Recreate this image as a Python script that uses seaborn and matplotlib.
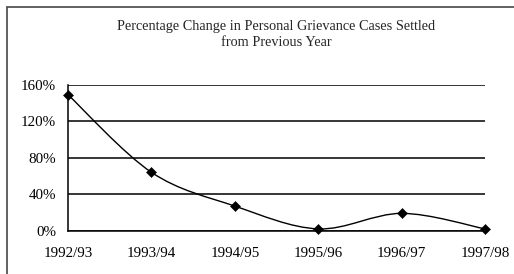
import numpy as np
import pandas as pd
import matplotlib
matplotlib.use("Agg")
import matplotlib.pyplot as plt
from matplotlib.path import Path
from matplotlib.patches import PathPatch
from matplotlib.lines import Line2D
import seaborn as sns

years = ["1992/93", "1993/94", "1994/95", "1995/96", "1996/97", "1997/98"]
pct_change = [149, 64, 27, 2, 19, 2]
y_ticks = [0, 40, 80, 120, 160]
y_labels = ["0%", "40%", "80%", "120%", "160%"]
title = "Percentage Change in Personal Grievance Cases Settled\nfrom Previous Year"


def smooth_path(xs, ys):
    # Excel style smoothed line: cubic bezier with 1/6 tangents
    pts = np.column_stack([xs, ys]).astype(float)
    n = len(pts)
    verts = [pts[0]]
    codes = [Path.MOVETO]
    for i in range(n - 1):
        p0 = pts[max(i - 1, 0)]
        p1 = pts[i]
        p2 = pts[i + 1]
        p3 = pts[min(i + 2, n - 1)]
        c1 = p1 + (p2 - p0) / 6
        c2 = p2 - (p3 - p1) / 6
        verts += [c1, c2, p2]
        codes += [Path.CURVE4] * 3
    return Path(verts, codes)


def main():
    sns.set_theme(style="white")
    plt.rcParams["font.family"] = ["Liberation Serif", "DejaVu Serif"]

    df = pd.DataFrame({"year": years, "pct": pct_change})
    df["pos"] = np.arange(len(df))

    fig = plt.figure(figsize=(5.14, 2.74), dpi=100)
    ax = fig.add_axes([0.1323, 0.158, 0.8113, 0.533])

    for v in y_ticks:
        ax.axhline(v, color="black", lw=1.1, zorder=1)

    ax.add_patch(PathPatch(smooth_path(df["pos"], df["pct"]), facecolor="none",
                           edgecolor="black", lw=1.0, zorder=2))
    sns.scatterplot(data=df, x="pos", y="pct", marker="D", s=26, color="black",
                    edgecolor="black", ax=ax, zorder=3, clip_on=False)

    ax.set_xlim(0, len(years) - 1)
    ax.set_ylim(0, 160)
    ax.set_xticks(df["pos"])
    ax.set_xticklabels(years)
    ax.set_yticks(y_ticks)
    ax.set_yticklabels(y_labels)
    ax.set_xlabel("")
    ax.set_ylabel("")
    ax.tick_params(axis="both", labelsize=10.8, colors="black", direction="out")
    ax.tick_params(axis="x", length=4, width=1, pad=8)
    ax.tick_params(axis="y", length=4.5, width=1, pad=4)

    for side in ["top", "right"]:
        ax.spines[side].set_visible(False)
    ax.spines["left"].set_color("black")
    ax.spines["left"].set_linewidth(1.1)
    ax.spines["bottom"].set_color("black")
    ax.spines["bottom"].set_linewidth(1.1)

    ax.set_title(title, fontsize=10.3, pad=28, linespacing=1.3)

    # scanned page frame: only top and left edges visible
    fig.lines.append(Line2D([0.013, 1.0], [0.975, 0.975], transform=fig.transFigure,
                            color="#555555", lw=1.3))
    fig.lines.append(Line2D([0.013, 0.013], [0.0, 0.975], transform=fig.transFigure,
                            color="#555555", lw=1.3))

    fig.savefig("out.png", dpi=100)


if __name__ == "__main__":
    main()
